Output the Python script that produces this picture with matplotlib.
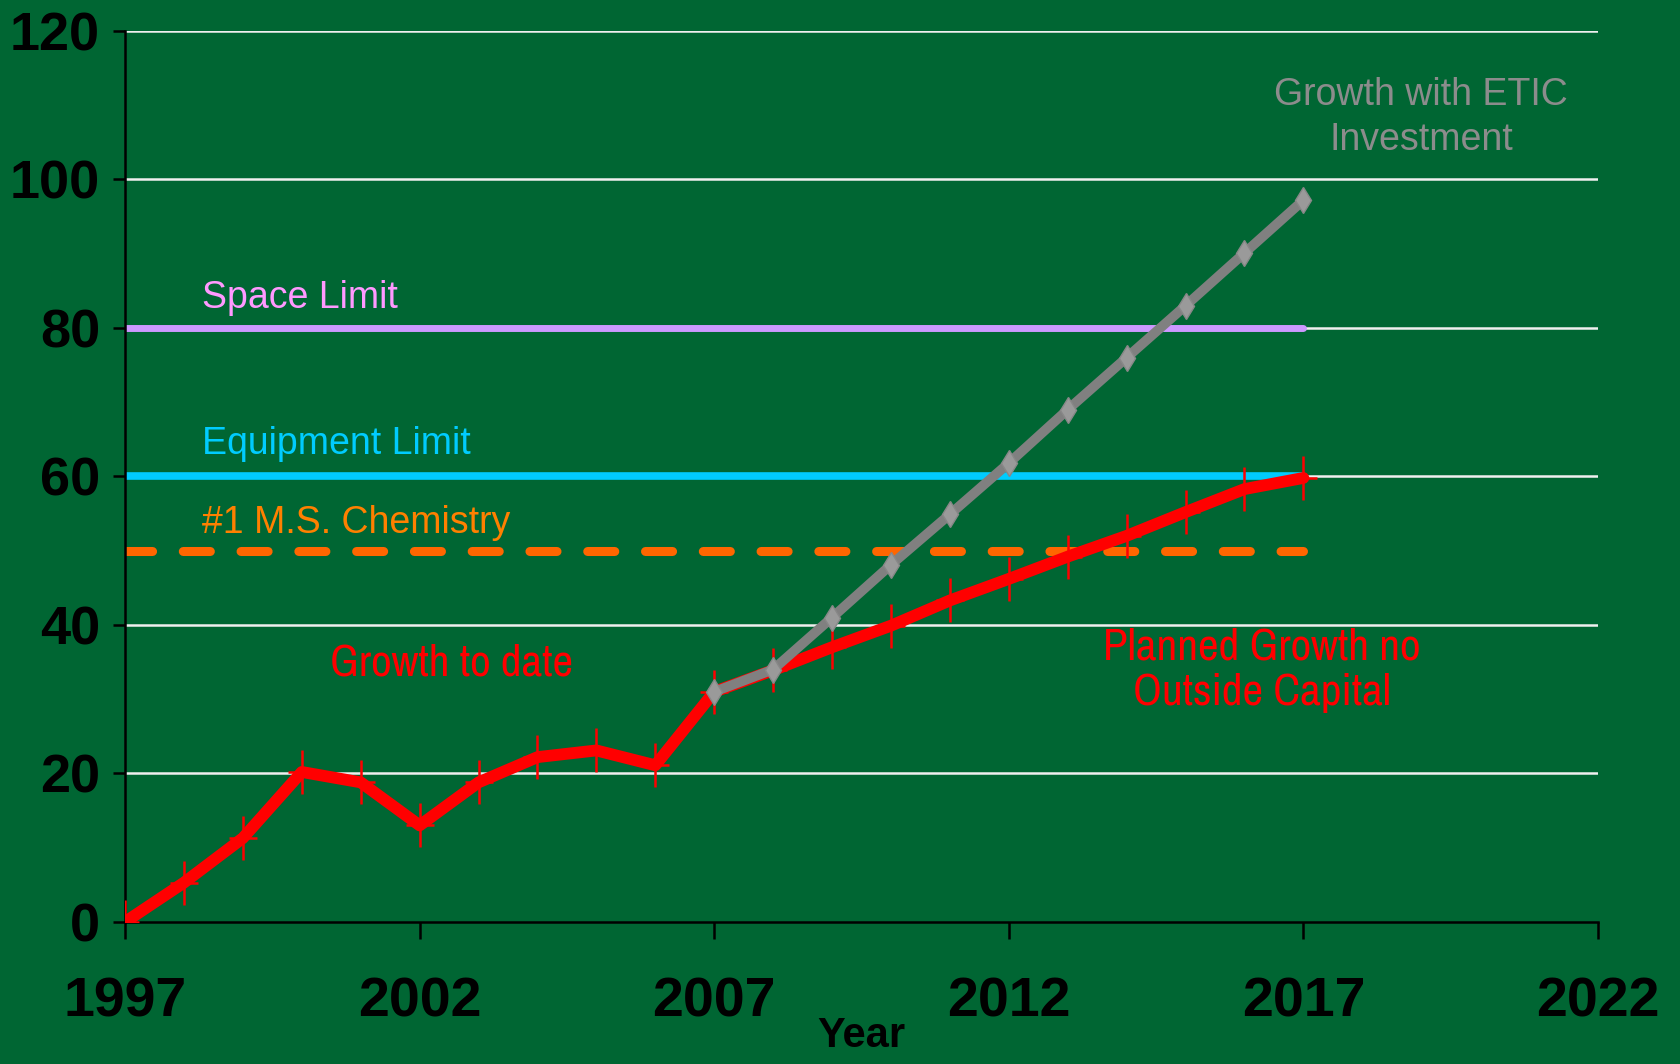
import matplotlib.pyplot as plt
from matplotlib import font_manager
from matplotlib.path import Path

# data
years_hist = [1997, 1998, 1999, 2000, 2001, 2002, 2003, 2004, 2005, 2006, 2007]
growth_hist = [0, 5.3, 11.3, 20.2, 18.8, 13, 18.8, 22.2, 23.1, 21.1, 31]
years_plan = [2007, 2008, 2009, 2010, 2011, 2012, 2013, 2014, 2015, 2016, 2017]
growth_plan = [31, 33.9, 37, 39.9, 43.3, 46.2, 49.2, 52, 55.2, 58.3, 59.8]
growth_etic = [31, 34, 41, 48.1, 54.9, 61.8, 69, 76, 83, 90.1, 97.2]
space_limit = 80
equip_limit = 60
ms_chem = 50
limit_span = [1997, 2017]

BG = "#006633"
names = {f.name for f in font_manager.fontManager.ttflist}
NARROW = next((n for n in ["Liberation Sans Narrow", "Archivo Narrow", "Roboto Condensed"]
               if n in names), "Liberation Sans")
plt.rcParams["font.family"] = ["Liberation Sans", "DejaVu Sans"]

# tall thin cross used as the marker of the red series
cross = Path([(0, -1), (0, 1), (-0.65, 0), (0.65, 0)],
             [Path.MOVETO, Path.LINETO, Path.MOVETO, Path.LINETO])

fig = plt.figure(figsize=(16.81, 10.64), dpi=100, facecolor=BG)
ax = fig.add_axes([0.0744, 0.1335, 0.8762, 0.8374], facecolor=BG)

for y in [20, 40, 60, 80, 100, 120]:
    ax.axhline(y, color="#f0f0f0", lw=1.8, zorder=1)

ax.plot(limit_span, [space_limit] * 2, color="#cc99ff", lw=5, solid_capstyle="round", zorder=2)
ax.plot(limit_span, [equip_limit] * 2, color="#00ccff", lw=5.5, solid_capstyle="round", zorder=2)
ax.plot(limit_span, [ms_chem] * 2, color="#ff6600", lw=6.5, dashes=(3.0, 3.4),
        dash_capstyle="round", zorder=2)

years_all = years_hist + years_plan[1:]
growth_all = growth_hist + growth_plan[1:]
ax.plot(years_all, growth_all, color="#ff0000", lw=8.5, solid_joinstyle="round",
        solid_capstyle="round", zorder=3)
ax.plot(years_all, growth_all, ls="none", marker=cross, ms=32, mew=1.8,
        color="#ff0000", zorder=4)
ax.plot(years_plan, growth_etic, color="#808080", lw=7, solid_joinstyle="round", zorder=5)
ax.plot(years_plan, growth_etic, ls="none", marker="d", ms=13, mfc="#9a9a9a",
        mec="#888888", mew=1, zorder=6)

txt = dict(fontsize=27)
ax.text(1998.3, 84.0, "Space Limit", color="#ff99ff", va="center", ha="left", **txt)
ax.text(1998.3, 64.4, "Equipment Limit", color="#00ccff", va="center", ha="left", **txt)
ax.text(1998.3, 53.7, "#1 M.S. Chemistry", color="#ff8000", va="center", ha="left", **txt)
ax.text(2002.55, 34.8, "Growth to date", color="#ff0000", va="center", ha="center",
        family=NARROW, fontsize=32.5)
ax.text(2016.3, 33.9, "Planned Growth no\nOutside Capital", color="#ff0000", va="center",
        ha="center", family=NARROW, fontsize=32.5, linespacing=1.15)
ax.text(2019.0, 108.4, "Growth with ETIC\nInvestment", color="#8c8c8c", va="center",
        ha="center", fontsize=27, linespacing=1.32)

ax.set_xlim(1997, 2022)
ax.set_ylim(0, 120)
ax.set_xticks([1997, 2002, 2007, 2012, 2017, 2022])
ax.set_yticks([0, 20, 40, 60, 80, 100, 120])
for s in ["top", "right"]:
    ax.spines[s].set_visible(False)
for s in ["left", "bottom"]:
    ax.spines[s].set_linewidth(1.8)
    ax.spines[s].set_color("black")
ax.tick_params(axis="x", length=12, width=1.8, color="black", pad=27)
ax.tick_params(axis="y", length=9, width=1.8, color="black", pad=9)
for lab in ax.get_xticklabels():
    lab.set_fontweight("bold")
    lab.set_fontsize(40)
for lab in ax.get_yticklabels():
    lab.set_fontweight("bold")
    lab.set_fontsize(39)
ax.set_xlabel("Year", fontsize=30, fontweight="bold", labelpad=-9)

fig.savefig("out.png", dpi=100, facecolor=BG)
